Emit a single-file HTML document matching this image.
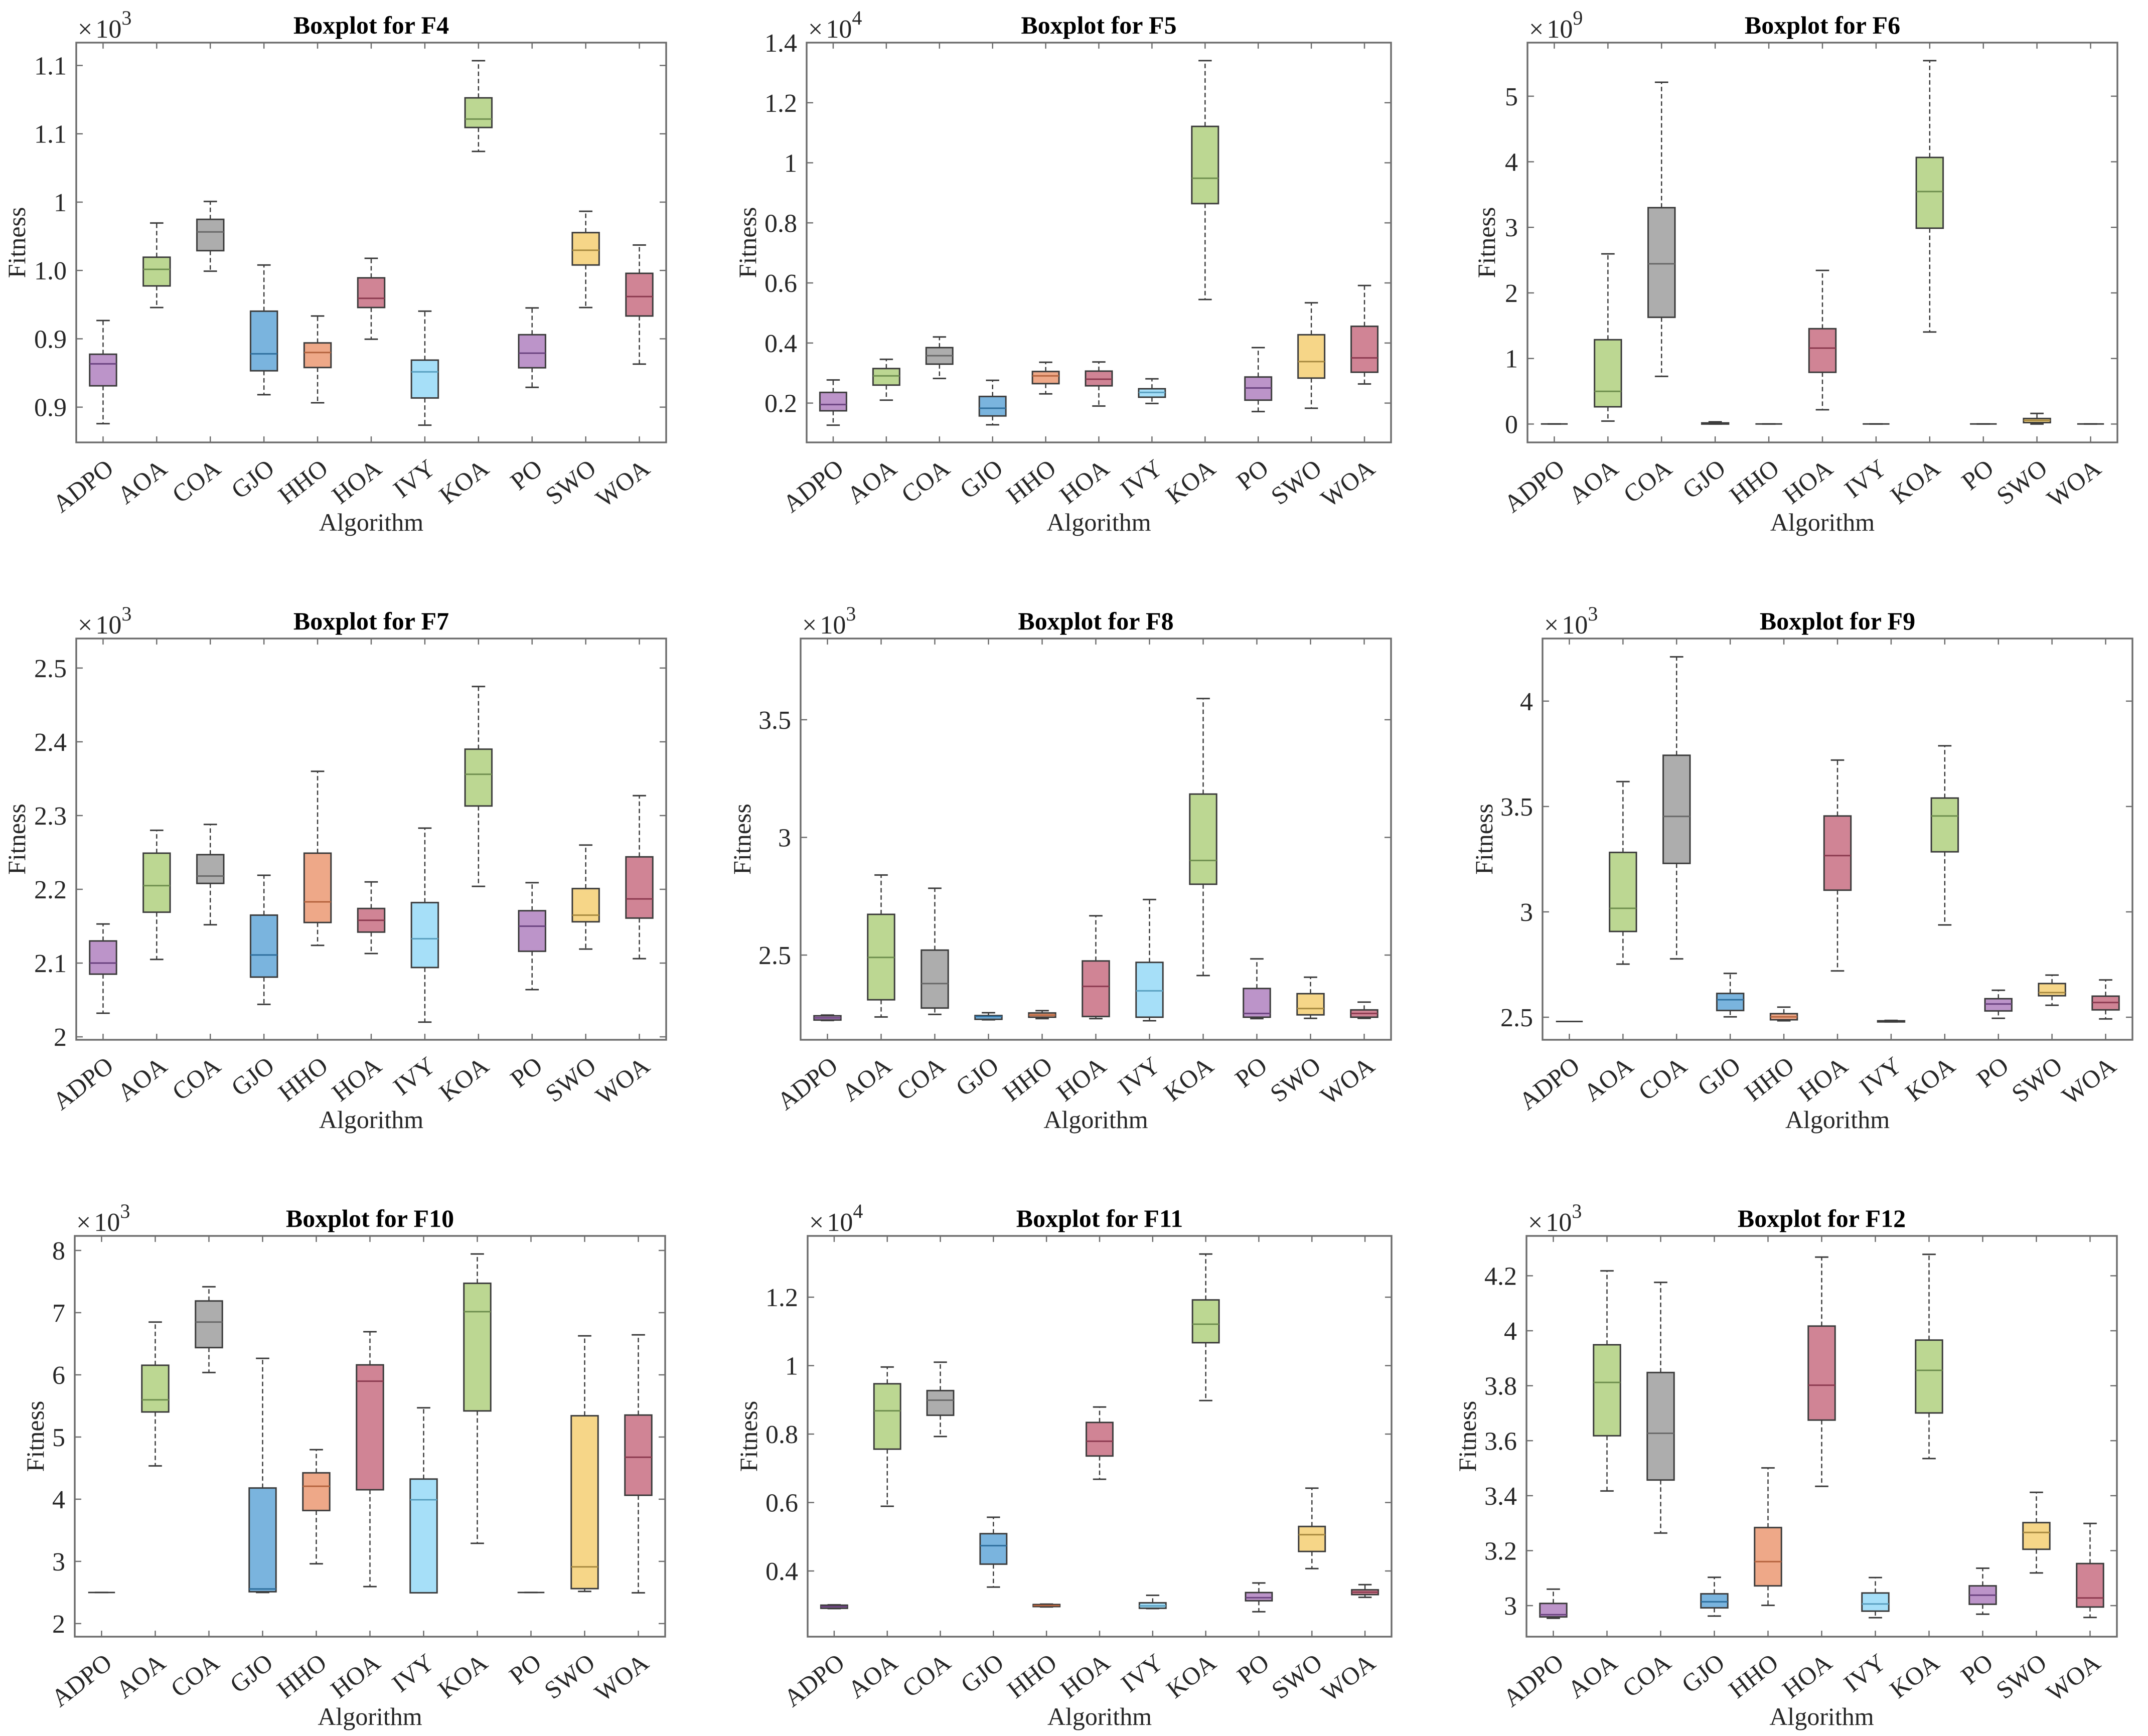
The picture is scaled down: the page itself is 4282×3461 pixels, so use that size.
<!DOCTYPE html>
<html lang="en">
<head>
<meta charset="utf-8">
<title>Boxplots for F4 to F12</title>
<style>
html,body{margin:0;padding:0;background:#fff;}
body{width:4282px;height:3461px;overflow:hidden;}
svg{display:block;filter:blur(0.7px);}
text{font-family:"Liberation Serif",serif;fill:#262626;}
</style>
</head>
<body>
<svg id="figure" xmlns="http://www.w3.org/2000/svg" width="4282" height="3461" viewBox="0 0 4282 3461"></svg>
<script>
const categories = ['ADPO','AOA','COA','GJO','HHO','HOA','IVY','KOA','PO','SWO','WOA'];

const F4_lo  = [0.8379,0.9229,0.9495,0.8591,0.8532,0.8997,0.8368,1.0371,0.8645,0.9229,0.8815];
const F4_q1  = [0.8656,0.9387,0.9645,0.8766,0.8790,0.9229,0.8567,1.0546,0.8788,0.9540,0.9167];
const F4_med = [0.8817,0.9508,0.9782,0.8890,0.8900,0.9296,0.8758,1.0608,0.8895,0.9648,0.9309];
const F4_q3  = [0.8887,0.9597,0.9874,0.9202,0.8970,0.9446,0.8844,1.0763,0.9030,0.9777,0.9479];
const F4_hi  = [0.9134,0.9847,1.0005,0.9540,0.9167,0.9589,0.9202,1.1035,0.9226,0.9933,0.9686];
const F4_ticks = [0.85,0.9,0.95,1,1.05,1.1];
const F4_tickLabels = ['0.9','0.9','1.0','1','1.1','1.1'];

const F5_lo  = [0.1266,0.2098,0.2820,0.1278,0.2306,0.1902,0.1988,0.5449,0.1719,0.1829,0.2636];
const F5_q1  = [0.1743,0.2599,0.3297,0.1572,0.2648,0.2575,0.2196,0.8642,0.2098,0.2832,0.3027];
const F5_med = [0.1951,0.2905,0.3578,0.1829,0.2905,0.2795,0.2355,0.9486,0.2502,0.3382,0.3505];
const F5_q3  = [0.2355,0.3150,0.3847,0.2220,0.3052,0.3064,0.2477,1.1211,0.2868,0.4275,0.4556];
const F5_hi  = [0.2771,0.3456,0.4202,0.2758,0.3358,0.3370,0.2807,1.3400,0.3847,0.5339,0.5914];
const F5_ticks = [0.2,0.4,0.6,0.8,1,1.2,1.4];
const F5_tickLabels = ['0.2','0.4','0.6','0.8','1','1.2','1.4'];

const F6_lo  = [0.001,0.045,0.727,0.000,0.001,0.218,0.001,1.404,0.001,0.000,0.001];
const F6_q1  = [0.001,0.263,1.628,0.000,0.001,0.789,0.001,2.987,0.001,0.022,0.001];
const F6_med = [0.001,0.498,2.444,0.006,0.001,1.158,0.001,3.546,0.001,0.056,0.001];
const F6_q3  = [0.001,1.286,3.300,0.017,0.001,1.454,0.001,4.066,0.001,0.084,0.001];
const F6_hi  = [0.001,2.595,5.213,0.034,0.001,2.343,0.001,5.543,0.001,0.162,0.001];
const F6_ticks = [0,1,2,3,4,5];
const F6_tickLabels = ['0','1','2','3','4','5'];

const F7_lo  = [2.032,2.105,2.152,2.044,2.124,2.113,2.020,2.204,2.064,2.119,2.106];
const F7_q1  = [2.085,2.169,2.208,2.081,2.155,2.142,2.094,2.313,2.116,2.156,2.161];
const F7_med = [2.100,2.205,2.218,2.111,2.183,2.158,2.133,2.356,2.150,2.165,2.187];
const F7_q3  = [2.130,2.249,2.247,2.165,2.249,2.174,2.182,2.390,2.171,2.201,2.244];
const F7_hi  = [2.153,2.280,2.288,2.219,2.360,2.210,2.283,2.475,2.209,2.260,2.327];
const F7_ticks = [2,2.1,2.2,2.3,2.4,2.5];
const F7_tickLabels = ['2','2.1','2.2','2.3','2.4','2.5'];

const F8_lo  = [2.222,2.237,2.248,2.225,2.230,2.230,2.221,2.413,2.230,2.231,2.231];
const F8_q1  = [2.224,2.310,2.275,2.227,2.236,2.239,2.236,2.801,2.236,2.246,2.236];
const F8_med = [2.233,2.490,2.379,2.239,2.245,2.367,2.348,2.902,2.252,2.273,2.252];
const F8_q3  = [2.242,2.673,2.521,2.243,2.254,2.475,2.469,3.184,2.358,2.336,2.267];
const F8_hi  = [2.245,2.840,2.784,2.255,2.264,2.667,2.736,3.590,2.484,2.406,2.300];
const F8_ticks = [2.5,3,3.5];
const F8_tickLabels = ['2.5','3','3.5'];

const F9_lo  = [2.480,2.752,2.777,2.502,2.483,2.720,2.478,2.938,2.495,2.557,2.492];
const F9_q1  = [2.480,2.907,3.230,2.532,2.488,3.103,2.478,3.285,2.530,2.602,2.535];
const F9_med = [2.480,3.017,3.453,2.583,2.502,3.267,2.482,3.455,2.563,2.617,2.570];
const F9_q3  = [2.480,3.282,3.743,2.613,2.517,3.455,2.483,3.540,2.588,2.660,2.600];
const F9_hi  = [2.480,3.618,4.210,2.708,2.548,3.720,2.485,3.788,2.628,2.700,2.677];
const F9_ticks = [2.5,3,3.5,4];
const F9_tickLabels = ['2.5','3','3.5','4'];

const F10_lo  = [2.500,4.536,6.037,2.500,2.962,2.595,2.495,3.290,2.500,2.517,2.495];
const F10_q1  = [2.500,5.403,6.438,2.512,3.818,4.152,2.495,5.420,2.500,2.562,4.063];
const F10_med = [2.500,5.598,6.849,2.556,4.208,5.898,3.991,7.016,2.500,2.912,4.675];
const F10_q3  = [2.500,6.154,7.188,4.180,4.424,6.160,4.324,7.472,2.500,5.342,5.353];
const F10_hi  = [2.500,6.849,7.416,6.265,4.797,6.693,5.470,7.944,2.500,6.627,6.643];
const F10_ticks = [2,3,4,5,6,7,8];
const F10_tickLabels = ['2','3','4','5','6','7','8'];

const F11_lo  = [0.290,0.589,0.793,0.353,0.295,0.668,0.290,0.898,0.281,0.407,0.323];
const F11_q1  = [0.291,0.756,0.855,0.420,0.296,0.736,0.291,1.067,0.313,0.457,0.331];
const F11_med = [0.296,0.868,0.899,0.474,0.299,0.779,0.298,1.121,0.322,0.506,0.338];
const F11_q3  = [0.300,0.947,0.927,0.509,0.302,0.834,0.307,1.192,0.337,0.530,0.345];
const F11_hi  = [0.301,0.996,1.010,0.557,0.303,0.879,0.329,1.326,0.365,0.642,0.360];
const F11_ticks = [0.4,0.6,0.8,1,1.2];
const F11_tickLabels = ['0.4','0.6','0.8','1','1.2'];

const F12_lo  = [2.954,3.417,3.264,2.962,3.001,3.434,2.956,3.535,2.969,3.119,2.957];
const F12_q1  = [2.959,3.618,3.457,2.992,3.072,3.675,2.980,3.701,3.005,3.205,2.995];
const F12_med = [2.967,3.812,3.627,3.014,3.160,3.802,3.006,3.856,3.038,3.266,3.028];
const F12_q3  = [3.008,3.949,3.848,3.043,3.284,4.017,3.046,3.966,3.072,3.302,3.153];
const F12_hi  = [3.060,4.218,4.176,3.103,3.501,4.268,3.102,4.278,3.136,3.412,3.299];
const F12_ticks = [3,3.2,3.4,3.6,3.8,4,4.2];
const F12_tickLabels = ['3','3.2','3.4','3.6','3.8','4','4.2'];

const fillColors = ['#bc94c9','#bcd792','#adadad','#7ab4de','#eea888','#d08495','#a6dff8','#bcd792','#bc94c9','#f6d688','#d08495'];
const medianColors = ['#6b4380','#6f8f4f','#696969','#2f6f9e','#b5643f','#8c3a50','#5aa0c0','#6f8f4f','#6b4380','#a88a40','#8c3a50'];

const panels = [
  {id:'f4', title:'Boxplot for F4', exp:'3', lo:F4_lo,q1:F4_q1,med:F4_med,q3:F4_q3,hi:F4_hi,ticks:F4_ticks,labels:F4_tickLabels, ymin:0.8242,ymax:1.1167, left:152,right:1328,top:85,bottom:882,yOff:102},
  {id:'f5', title:'Boxplot for F5', exp:'4', lo:F5_lo,q1:F5_q1,med:F5_med,q3:F5_q3,hi:F5_hi,ticks:F5_ticks,labels:F5_tickLabels, ymin:0.0691,ymax:1.4, left:1608,right:2773,top:85,bottom:882,yOff:101},
  {id:'f6', title:'Boxplot for F6', exp:'9', lo:F6_lo,q1:F6_q1,med:F6_med,q3:F6_q3,hi:F6_hi,ticks:F6_ticks,labels:F6_tickLabels, ymin:-0.28,ymax:5.817, left:3045,right:4221,top:85,bottom:882,yOff:65},
  {id:'f7', title:'Boxplot for F7', exp:'3', lo:F7_lo,q1:F7_q1,med:F7_med,q3:F7_q3,hi:F7_hi,ticks:F7_ticks,labels:F7_tickLabels, ymin:1.996,ymax:2.54, left:152,right:1328,top:1273,bottom:2073,yOff:102},
  {id:'f8', title:'Boxplot for F8', exp:'3', lo:F8_lo,q1:F8_q1,med:F8_med,q3:F8_q3,hi:F8_hi,ticks:F8_ticks,labels:F8_tickLabels, ymin:2.14,ymax:3.845, left:1596,right:2773,top:1273,bottom:2073,yOff:100},
  {id:'f9', title:'Boxplot for F9', exp:'3', lo:F9_lo,q1:F9_q1,med:F9_med,q3:F9_q3,hi:F9_hi,ticks:F9_ticks,labels:F9_tickLabels, ymin:2.393,ymax:4.297, left:3075,right:4251,top:1273,bottom:2073,yOff:100},
  {id:'f10',title:'Boxplot for F10',exp:'3', lo:F10_lo,q1:F10_q1,med:F10_med,q3:F10_q3,hi:F10_hi,ticks:F10_ticks,labels:F10_tickLabels, ymin:1.789,ymax:8.234, left:149,right:1326,top:2464,bottom:3263,yOff:62},
  {id:'f11',title:'Boxplot for F11',exp:'4', lo:F11_lo,q1:F11_q1,med:F11_med,q3:F11_q3,hi:F11_hi,ticks:F11_ticks,labels:F11_tickLabels, ymin:0.208,ymax:1.379, left:1610,right:2774,top:2464,bottom:3263,yOff:101},
  {id:'f12',title:'Boxplot for F12',exp:'3', lo:F12_lo,q1:F12_q1,med:F12_med,q3:F12_q3,hi:F12_hi,ticks:F12_ticks,labels:F12_tickLabels, ymin:2.887,ymax:4.345, left:3043,right:4220,top:2464,bottom:3263,yOff:101}
];

const NS = 'http://www.w3.org/2000/svg';
const root = document.getElementById('figure');
const AXIS = '#6e6e6e';
const EDGE = '#3c3c3c';

function mk(parent, tag, attrs, content) {
  const el = document.createElementNS(NS, tag);
  for (const k in attrs) el.setAttribute(k, attrs[k]);
  if (content !== undefined) el.textContent = content;
  parent.appendChild(el);
  return el;
}

function drawPanel(p) {
  const g = mk(root, 'g', {});
  
  

  const xScale = i => p.left + (i + 0.5) / categories.length * (p.right - p.left);
  const yScale = v => p.bottom - (v - p.ymin) / (p.ymax - p.ymin) * (p.bottom - p.top);
  const band = (p.right - p.left) / categories.length;
  const cx = (p.left + p.right) / 2;
  const cy = (p.top + p.bottom) / 2;

  const frame = mk(g, 'rect', {x:p.left, y:p.top, width:p.right-p.left, height:p.bottom-p.top, fill:'#fff', stroke:AXIS, 'stroke-width':3.5});
  
  

  const title = mk(g, 'text', {x:cx, y:p.top-18, 'text-anchor':'middle', 'font-size':50, 'font-weight':'bold', style:'fill:#000'}, p.title);
  
  

  const expo = mk(g, 'text', {x:p.left+3, y:p.top-10, 'font-size':52});
  
  
  mk(expo, 'tspan', {}, '\u00d7');
  mk(expo, 'tspan', {dx:6}, '10');
  mk(expo, 'tspan', {dy:-26, 'font-size':40}, p.exp);

  const ylab = mk(g, 'text', {x:0, y:0, 'text-anchor':'middle', 'font-size':50, transform:'translate(' + (p.left-p.yOff) + ',' + cy + ') rotate(-90)'}, 'Fitness');
  
  

  const xlab = mk(g, 'text', {x:cx, y:p.bottom+176, 'text-anchor':'middle', 'font-size':50}, 'Algorithm');
  
  

  p.ticks.forEach((t, i) => {
    const y = yScale(t);
    const t1 = mk(g, 'line', {x1:p.left, x2:p.left+13, y1:y, y2:y, stroke:AXIS, 'stroke-width':2.5});
    
    
    const t2 = mk(g, 'line', {x1:p.right, x2:p.right-13, y1:y, y2:y, stroke:AXIS, 'stroke-width':2.5});
    
    
    const lab = mk(g, 'text', {x:p.left-19, y:y+18, 'text-anchor':'end', 'font-size':52}, p.labels[i]);
    
    
  });

  categories.forEach((name, i) => {
    const x = xScale(i);
    const t1 = mk(g, 'line', {x1:x, x2:x, y1:p.bottom, y2:p.bottom-12, stroke:AXIS, 'stroke-width':2.5});
    
    
    const t2 = mk(g, 'line', {x1:x, x2:x, y1:p.top, y2:p.top+12, stroke:AXIS, 'stroke-width':2.5});
    
    
    const lab = mk(g, 'text', {x:0, y:0, 'text-anchor':'end', 'font-size':50, transform:'translate(' + (x+24) + ',' + (p.bottom+58) + ') rotate(-38)'}, name);
    
    

    const box = mk(g, 'g', {});
    
    

    const yLo = yScale(p.lo[i]), yQ1 = yScale(p.q1[i]), yMed = yScale(p.med[i]), yQ3 = yScale(p.q3[i]), yHi = yScale(p.hi[i]);
    const halfBox = band * 0.25, halfCap = band * 0.125;
    const collapsed = yQ1 - yQ3 < 3;

    const w1 = mk(box, 'line', {x1:x, x2:x, y1:yQ3, y2:yHi, stroke:EDGE, 'stroke-width':2.5, 'stroke-dasharray':'9 5.5'});
    
    
    const w2 = mk(box, 'line', {x1:x, x2:x, y1:yQ1, y2:yLo, stroke:EDGE, 'stroke-width':2.5, 'stroke-dasharray':'9 5.5'});
    
    
    const c1 = mk(box, 'line', {x1:x-halfCap, x2:x+halfCap, y1:yHi, y2:yHi, stroke:EDGE, 'stroke-width':3});
    
    
    const c2 = mk(box, 'line', {x1:x-halfCap, x2:x+halfCap, y1:yLo, y2:yLo, stroke:EDGE, 'stroke-width':3});
    
    
    const r = mk(box, 'rect', {x:x-halfBox, y:yQ3, width:halfBox*2, height:Math.max(yQ1-yQ3, 0), fill:fillColors[i], stroke:EDGE, 'stroke-width':3});
    
    
    const m = mk(box, 'line', {x1:x-halfBox, x2:x+halfBox, y1:yMed, y2:yMed, stroke:collapsed ? EDGE : medianColors[i], 'stroke-width':3});
    
    
  });
}

panels.forEach(drawPanel);
</script>
</body>
</html>
